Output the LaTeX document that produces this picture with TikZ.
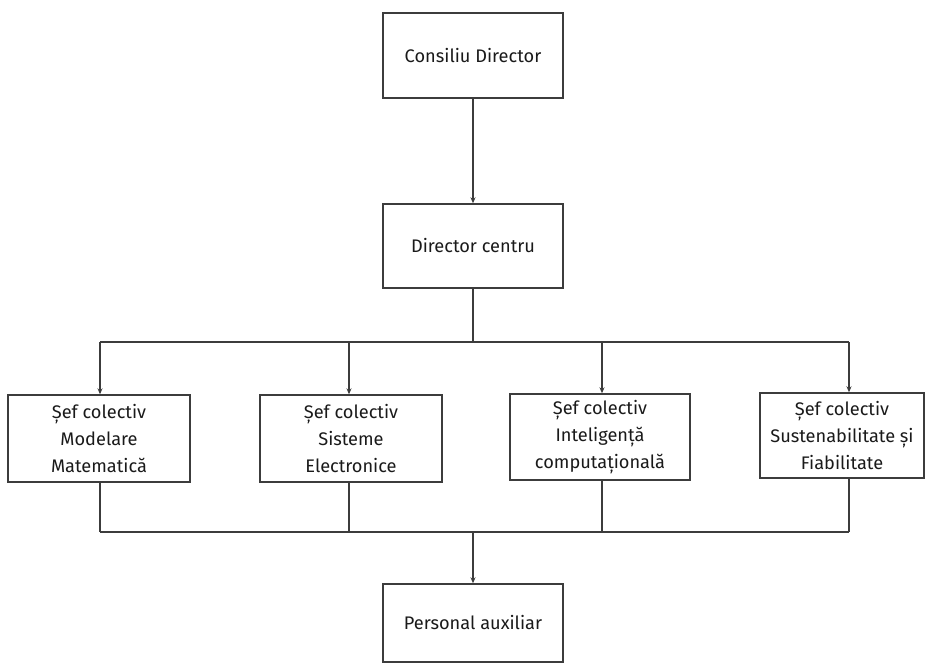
\documentclass[tikz,border=0pt]{standalone}
\usepackage{fontspec}
\setmainfont{Fira Sans}
\usetikzlibrary{arrows.meta}
\definecolor{ln}{HTML}{3C3C3C}
\definecolor{tx}{HTML}{1A1A1A}
\tikzset{
  box/.style={draw=ln, line width=1.4pt, fill=white, align=center, text=tx,
    font=\fontsize{18.2}{27}\selectfont, inner sep=0pt},
  wire/.style={draw=ln, line width=1.4pt},
  arr/.style={wire, -{Stealth[length=6pt,width=5pt]}}
}
\begin{document}
\begin{tikzpicture}[x=1pt,y=-1pt]
\useasboundingbox[fill=white] (0,0) rectangle (928,666);
\node[box, minimum width=180pt, minimum height=85pt] (cd) at (473,55.5) {Consiliu Director};
\node[box, minimum width=180pt, minimum height=84pt] (dc) at (473,246) {Director centru};
\node[box, minimum width=182pt, minimum height=87pt] (s1) at (99,438.5) {Șef colectiv\\Modelare\\Matematică};
\node[box, minimum width=182pt, minimum height=87pt] (s2) at (351,438.5) {Șef colectiv\\Sisteme\\Electronice};
\node[box, minimum width=180pt, minimum height=86pt] (s3) at (600,437) {Șef colectiv\\Inteligență\\computațională};
\node[box, minimum width=164pt, minimum height=85pt] (s4) at (842,435.5) {Șef colectiv\\Sustenabilitate și\\Fiabilitate};
\node[box, minimum width=180pt, minimum height=78pt] (pa) at (473,623) {Personal auxiliar};
\coordinate (b1) at (473,342);
\coordinate (t1) at (100,342);
\coordinate (t2) at (349,342);
\coordinate (t3) at (602,342);
\coordinate (t4) at (849,342);
\coordinate (u1) at (100,532);
\coordinate (u2) at (349,532);
\coordinate (u3) at (602,532);
\coordinate (u4) at (849,532);
\coordinate (m) at (473,532);
\draw[arr] (cd) -- (dc);
\draw[wire] (dc.south) -- (b1);
\draw[wire] (t1) -- (t4);
\draw[arr] (t1) -- (t1 |- s1.north);
\draw[arr] (t2) -- (t2 |- s2.north);
\draw[arr] (t3) -- (t3 |- s3.north);
\draw[arr] (t4) -- (t4 |- s4.north);
\draw[wire] (u1 |- s1.south) -- (u1);
\draw[wire] (u2 |- s2.south) -- (u2);
\draw[wire] (u3 |- s3.south) -- (u3);
\draw[wire] (u4 |- s4.south) -- (u4);
\draw[wire] (u1) -- (u4);
\draw[arr] (m) -- (pa);
\end{tikzpicture}
\end{document}
